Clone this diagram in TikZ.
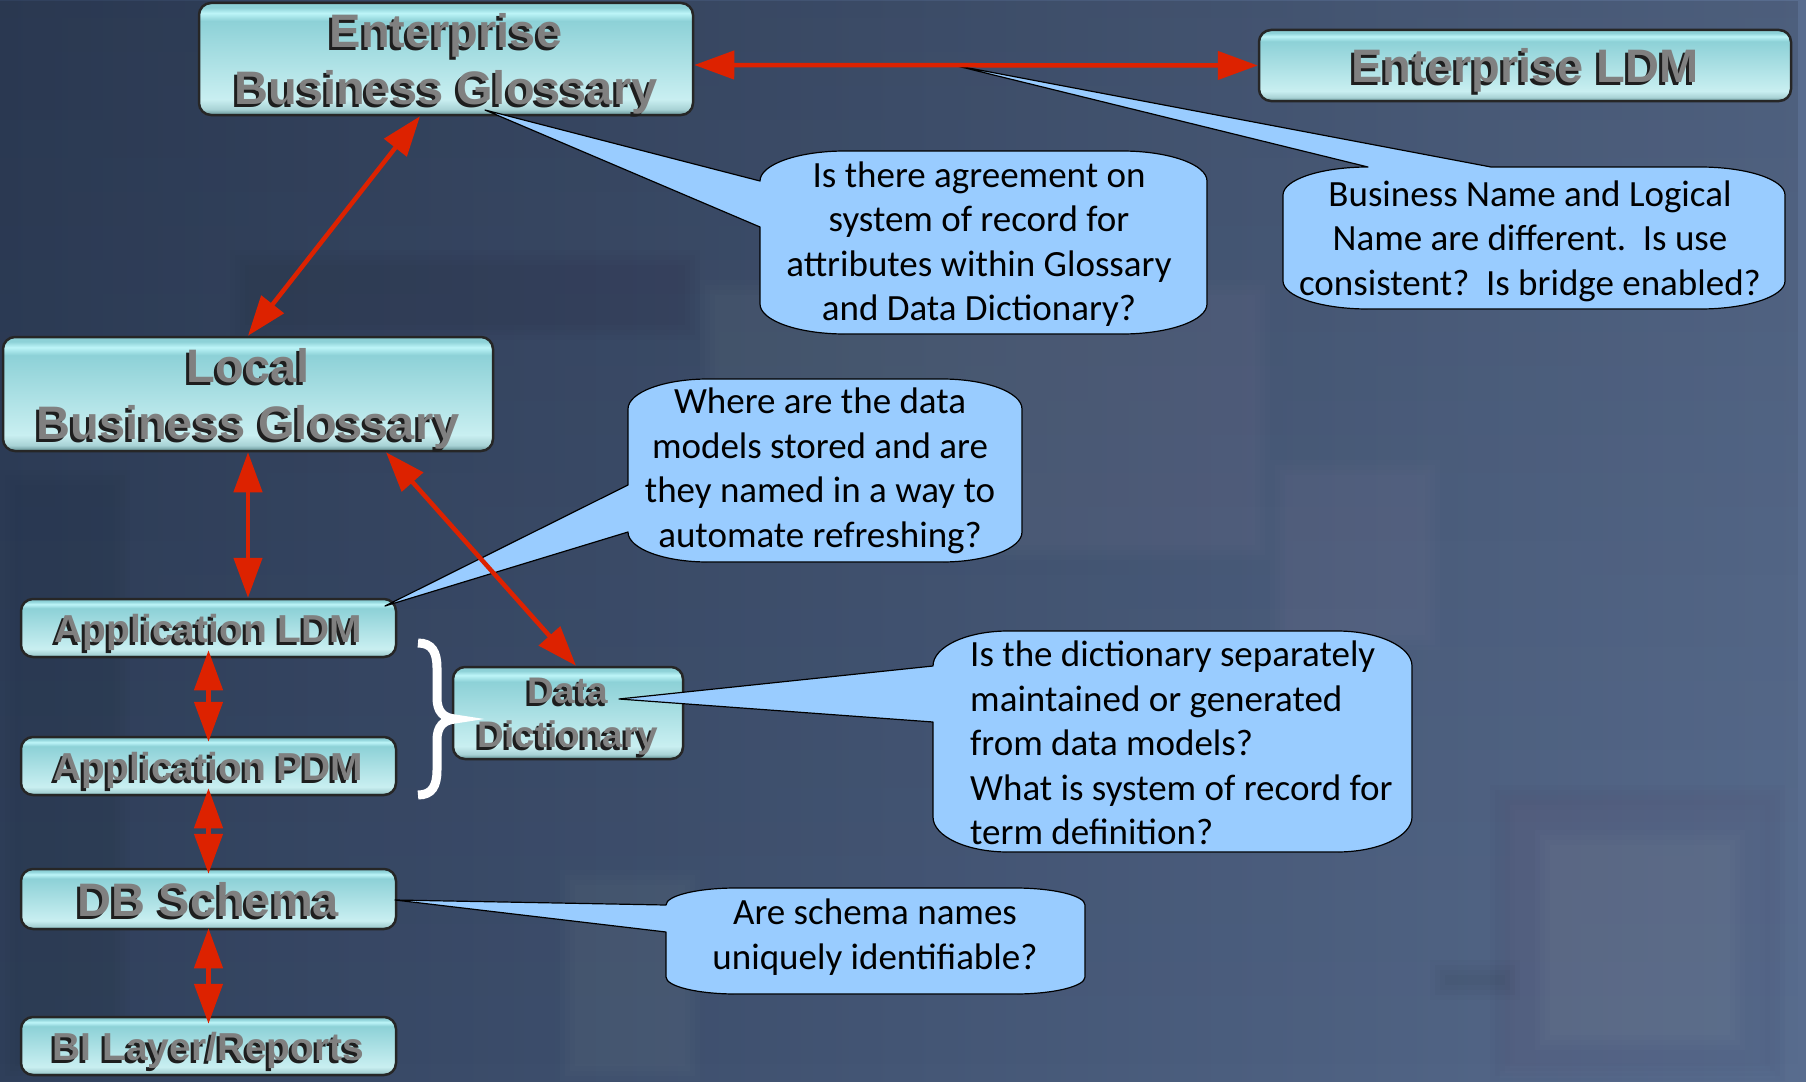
\documentclass[tikz,border=0pt]{standalone}
\usepackage{fontspec}
\setmainfont{Carlito}
\newfontfamily\boxfont{Liberation Sans}
\usetikzlibrary{arrows.meta,fadings}

\definecolor{bgdark}{HTML}{30405C}
\definecolor{bglight}{HTML}{586C8E}
\definecolor{redc}{RGB}{221,34,0}
\definecolor{calloutc}{HTML}{99CCFF}
\definecolor{boxgray}{HTML}{808080}
\definecolor{txtshadow}{HTML}{1E1E1E}
\definecolor{bxA}{HTML}{5E8C90}
\definecolor{bxB}{HTML}{A8D2D5}
\definecolor{bxC}{HTML}{C9EFF1}
\definecolor{bxD}{HTML}{8DD1D7}
\definecolor{bxE}{HTML}{BDF5F8}

% glossy cyan fill of the boxes (bottom to top, the path spans 25bp..75bp)
\pgfdeclareverticalshading{gloss}{100bp}{color(0bp)=(bxA); color(25bp)=(bxA);
  color(27.5bp)=(bxB); color(32bp)=(bxC); color(67bp)=(bxD); color(70.5bp)=(bxE);
  color(73bp)=(bxD); color(75bp)=(bxD); color(100bp)=(bxD)}

% box label with a dark drop shadow
\newcommand\sh[1]{\rlap{\kern-3pt\raisebox{-3pt}[0pt][0pt]{\textcolor{txtshadow}{#1}}}#1}

% soft-edged patch of the backdrop: colour, x0, y0, x1, y1, opacity per layer
\newcommand\softrect[6]{%
  \foreach \d in {0,5,10,15}{%
    \fill[#1, opacity=#6] ({#2+\d},{#3+\d}) rectangle ({#4-\d},{#5-\d});}}

\tikzset{
  glossbox/.style={shade, shading=gloss, draw=black!85, line width=2.5pt,
    rounded corners=12pt, inner sep=0pt, align=center, text=boxgray,
    text depth=0pt, font=\boxfont\bfseries\fontsize{47}{57}\selectfont},
  smallbox/.style={glossbox, font=\boxfont\bfseries\fontsize{39}{46}\selectfont},
  ddbox/.style={glossbox, font=\boxfont\bfseries\fontsize{37}{44}\selectfont},
  callout/.style={fill=calloutc, draw=black, line width=1.2pt, line join=round},
  calltext/.style={align=center, inner sep=0pt, text=black,
    font=\fontsize{37}{44.5}\selectfont},
  dbl/.style={draw=redc, line width=4.5pt,
    {Triangle[length=40pt,width=28pt]}-{Triangle[length=40pt,width=28pt]}},
}

\begin{document}
\begin{tikzpicture}[x=1pt,y=-1pt]
\useasboundingbox (0,0) rectangle (1806,1081);

% backdrop
\shade[left color=bgdark, right color=bglight] (0,0) rectangle (1806,1081);
\fill[black, opacity=0.12, path fading=south] (0,0) rectangle (1806,1081);
\softrect{white}{1500}{795}{1775}{1078}{0.012}
\softrect{black}{1490}{785}{1785}{1081}{0.012}
\softrect{white}{1535}{830}{1745}{1050}{0.015}
\softrect{white}{700}{280}{1270}{560}{0.012}
\softrect{white}{1270}{460}{1440}{650}{0.012}
\softrect{black}{230}{250}{700}{340}{0.015}
\softrect{black}{0}{470}{130}{1081}{0.012}
\softrect{white}{560}{870}{700}{1081}{0.01}
\softrect{black}{1430}{960}{1520}{1000}{0.02}

% boxes
\node[glossbox, minimum width=494pt, minimum height=112pt] (EBG) at (446,59)
  {\sh{Enterprise}\\\sh{Business Glossary}};
\node[glossbox, minimum width=532pt, minimum height=71pt] (ELDM) at (1525,65.5)
  {\sh{Enterprise LDM}};
\node[glossbox, minimum width=490pt, minimum height=114pt] (LBG) at (248,394)
  {\sh{Local}\\\sh{Business Glossary}};
\node[smallbox, minimum width=375pt, minimum height=58pt] (ALDM) at (208.5,628)
  {\sh{Application LDM}};
\node[smallbox, minimum width=375pt, minimum height=58pt] (APDM) at (208.5,766)
  {\sh{Application PDM}};
\node[glossbox, minimum width=375pt, minimum height=60pt] (DBS) at (208.5,899)
  {\sh{DB Schema}};
\node[smallbox, minimum width=375pt, minimum height=58pt] (BIL) at (208.5,1046)
  {\sh{BI Layer/Reports}};
\node[ddbox, minimum width=230pt, minimum height=92pt] (DD) at (568,713)
  {\sh{Data}\\\sh{Dictionary}};

% speech callouts
\draw[callout] (760,227) -- (485,110) -- (760,181)
  .. controls (760,164.4) and (798.1,151) .. (845,151) -- (1122,151)
  .. controls (1168.9,151) and (1207,164.4) .. (1207,181) -- (1207,304)
  .. controls (1207,320.6) and (1168.9,334) .. (1122,334) -- (845,334)
  .. controls (798.1,334) and (760,320.6) .. (760,304) -- cycle;
\node[calltext] (q1) at (979,244)
  {Is there agreement on\\system of record for\\attributes within Glossary\\and Data Dictionary?};

\draw[callout] (1283,195)
  .. controls (1283,179.5) and (1321.1,167) .. (1368,167) -- (953,65) -- (1491,167)
  -- (1700,167) .. controls (1746.9,167) and (1785,179.5) .. (1785,195) -- (1785,281)
  .. controls (1785,296.5) and (1746.9,309) .. (1700,309) -- (1368,309)
  .. controls (1321.1,309) and (1283,296.5) .. (1283,281) -- cycle;
\node[calltext] (q2) at (1530,241)
  {Business Name and Logical\\Name are different.~~Is use\\consistent?~~Is bridge enabled?};

\draw[callout] (628,485) -- (385,606) -- (628,532)
  .. controls (628,548.6) and (663.8,562) .. (708,562) -- (942,562)
  .. controls (986.2,562) and (1022,548.6) .. (1022,532) -- (1022,409)
  .. controls (1022,392.4) and (986.2,379) .. (942,379) -- (708,379)
  .. controls (663.8,379) and (628,392.4) .. (628,409) -- cycle;
\node[calltext] (q3) at (820,471)
  {Where are the data\\models stored and are\\they named in a way to\\automate refreshing?};

\draw[callout] (933,722) -- (619,699) -- (933,666)
  .. controls (933,646.7) and (966.6,631) .. (1008,631) -- (1337,631)
  .. controls (1378.4,631) and (1412,646.7) .. (1412,666) -- (1412,817)
  .. controls (1412,836.3) and (1378.4,852) .. (1337,852) -- (1008,852)
  .. controls (966.6,852) and (933,836.3) .. (933,817) -- cycle;
\node[calltext, align=left, anchor=west] (q4) at (970,743)
  {Is the dictionary separately\\maintained or generated\\from data models?\\What is system of record for\\term definition?};

\draw[callout] (666,932) -- (395,900) -- (666,905)
  .. controls (666,895.6) and (697.4,888) .. (736,888) -- (1015,888)
  .. controls (1053.6,888) and (1085,895.6) .. (1085,905) -- (1085,977)
  .. controls (1085,986.4) and (1053.6,994) .. (1015,994) -- (736,994)
  .. controls (697.4,994) and (666,986.4) .. (666,977) -- cycle;
\node[calltext] (q5) at (875,937) {Are schema names\\uniquely identifiable?};

% double-headed links
\draw[dbl] ([yshift=-6pt]EBG.east) -- (ELDM.west);
\draw[dbl] ([xshift=-26pt]EBG.south) -- (LBG.north);
\draw[dbl] (LBG.south) -- (LBG.south |- ALDM.north);
\draw[dbl] ([xshift=138pt]LBG.south) -- ([xshift=8pt]DD.north);
\draw[dbl, shorten <=-8pt, shorten >=-6pt] (ALDM.south) -- (APDM.north);
\draw[dbl, shorten <=-8pt, shorten >=-6pt] (APDM.south) -- (DBS.north);
\draw[dbl, shorten <=-2pt, shorten >=-8pt] (DBS.south) -- (BIL.north);

% brace grouping the application models
\draw[white, line width=9pt] (418,643)
  .. controls (432,643) and (437,652) .. (437,668) -- (437,698)
  .. controls (437,711) and (443,718) .. (455,719)
  .. controls (443,720) and (437,727) .. (437,740) -- (437,770)
  .. controls (437,786) and (432,795) .. (418,795);
\end{tikzpicture}
\end{document}
